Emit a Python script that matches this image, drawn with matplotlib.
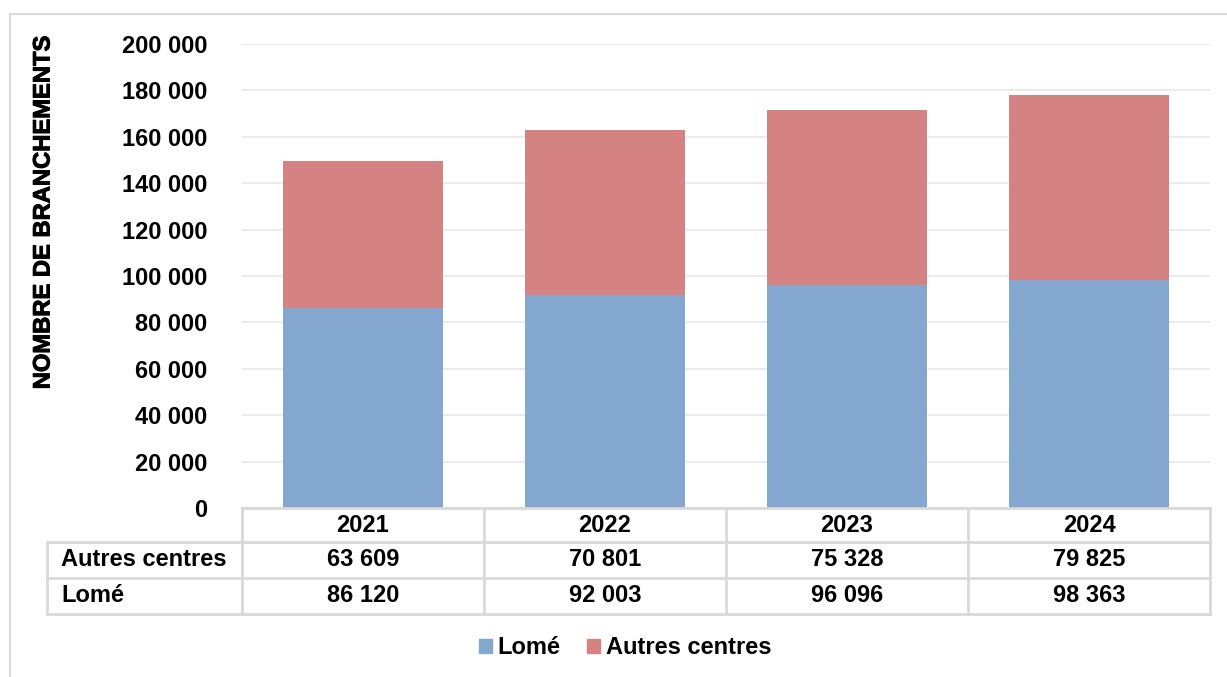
import matplotlib.pyplot as plt
import matplotlib.patheffects as pe
from matplotlib.lines import Line2D
from matplotlib.patches import Rectangle
from matplotlib.font_manager import FontProperties

years = ["2021", "2022", "2023", "2024"]
lome = [86120, 92003, 96096, 98363]
autres = [63609, 70801, 75328, 79825]
row_labels = ["Autres centres", "Lomé"]
y_ticks = [0, 20000, 40000, 60000, 80000, 100000, 120000, 140000, 160000, 180000, 200000]

BLUE = "#84A7CF"
RED = "#D48282"
LINE = "#D9D9D9"
FS = 17

plt.rcParams['font.family'] = ['Liberation Sans', 'DejaVu Sans']
plt.rcParams['font.weight'] = 'bold'

W, H = 1227, 677
fig = plt.figure(figsize=(W / 100, H / 100), dpi=100)


def fx(px):
    return px / W


def fy(py):
    return 1 - py / H


def fmt(v):
    return f"{v:,}".replace(",", " ")


# outer frame (runs off the right and bottom edge)
fig.add_artist(Rectangle((fx(10), -0.1), 1.2, fy(14) + 0.1, transform=fig.transFigure,
                         fill=False, edgecolor=LINE, linewidth=1.5))

left, right, top, bottom = 242, 1210, 44, 508
ax = fig.add_axes([fx(left), fy(bottom), fx(right - left), fy(top) - fy(bottom)])

x = range(len(years))
ax.bar(x, lome, width=0.66, color=BLUE, zorder=3)
ax.bar(x, autres, bottom=lome, width=0.66, color=RED, zorder=3)

ax.set_xlim(-0.5, len(years) - 0.5)
ax.set_ylim(0, 200000)
ax.set_yticks(y_ticks)
ax.set_yticklabels([fmt(v) for v in y_ticks], fontsize=FS, fontweight='bold')
ax.tick_params(axis='y', length=0, pad=25)
ax.set_xticks([])
ax.grid(axis='y', color="#EBEBEB", linewidth=1.5, zorder=0)
for s in ax.spines.values():
    s.set_visible(False)

# rotated text renders thin, so give it a light stroke
ylab_font = FontProperties(family='Liberation Sans', weight='bold', size=17.1)
fig.text(fx(43), fy(212), "NOMBRE DE BRANCHEMENTS", rotation=90, ha='center', va='center',
         fontproperties=ylab_font,
         path_effects=[pe.withStroke(linewidth=0.7, foreground='black')])

# data table under the chart
col_w = (right - left) / len(years)
row_y = [508, 542, 578, 614]
lab_left = 47


def hline(x0, x1, y):
    fig.add_artist(Line2D([fx(x0), fx(x1)], [fy(y), fy(y)], color=LINE, linewidth=2,
                          transform=fig.transFigure))


def vline(xp, y0, y1):
    fig.add_artist(Line2D([fx(xp), fx(xp)], [fy(y0), fy(y1)], color=LINE, linewidth=2,
                          transform=fig.transFigure))


hline(left, right, row_y[0])
for yy in row_y[1:]:
    hline(lab_left, right, yy)
vline(lab_left, row_y[1], row_y[3])
for i in range(len(years) + 1):
    vline(left + i * col_w, row_y[0], row_y[3])

for i, yr in enumerate(years):
    cx = left + (i + 0.5) * col_w
    fig.text(fx(cx), fy((row_y[0] + row_y[1]) / 2), yr, ha='center', va='center', fontsize=FS)
    fig.text(fx(cx), fy((row_y[1] + row_y[2]) / 2), fmt(autres[i]), ha='center', va='center', fontsize=FS)
    fig.text(fx(cx), fy((row_y[2] + row_y[3]) / 2), fmt(lome[i]), ha='center', va='center', fontsize=FS)

for j, lab in enumerate(row_labels):
    fig.text(fx(61), fy((row_y[j + 1] + row_y[j + 2]) / 2), lab, ha='left', va='center', fontsize=FS)

# legend
handles = [Rectangle((0, 0), 1, 1, color=BLUE), Rectangle((0, 0), 1, 1, color=RED)]
fig.legend(handles, ["Lomé", "Autres centres"], loc='center', bbox_to_anchor=(fx(625), fy(648)),
           ncol=2, frameon=False, handlelength=0.55, handleheight=0.55,
           handletextpad=0.25, columnspacing=1.1, prop={'weight': 'bold', 'size': FS})

fig.savefig("out.png", dpi=100)
